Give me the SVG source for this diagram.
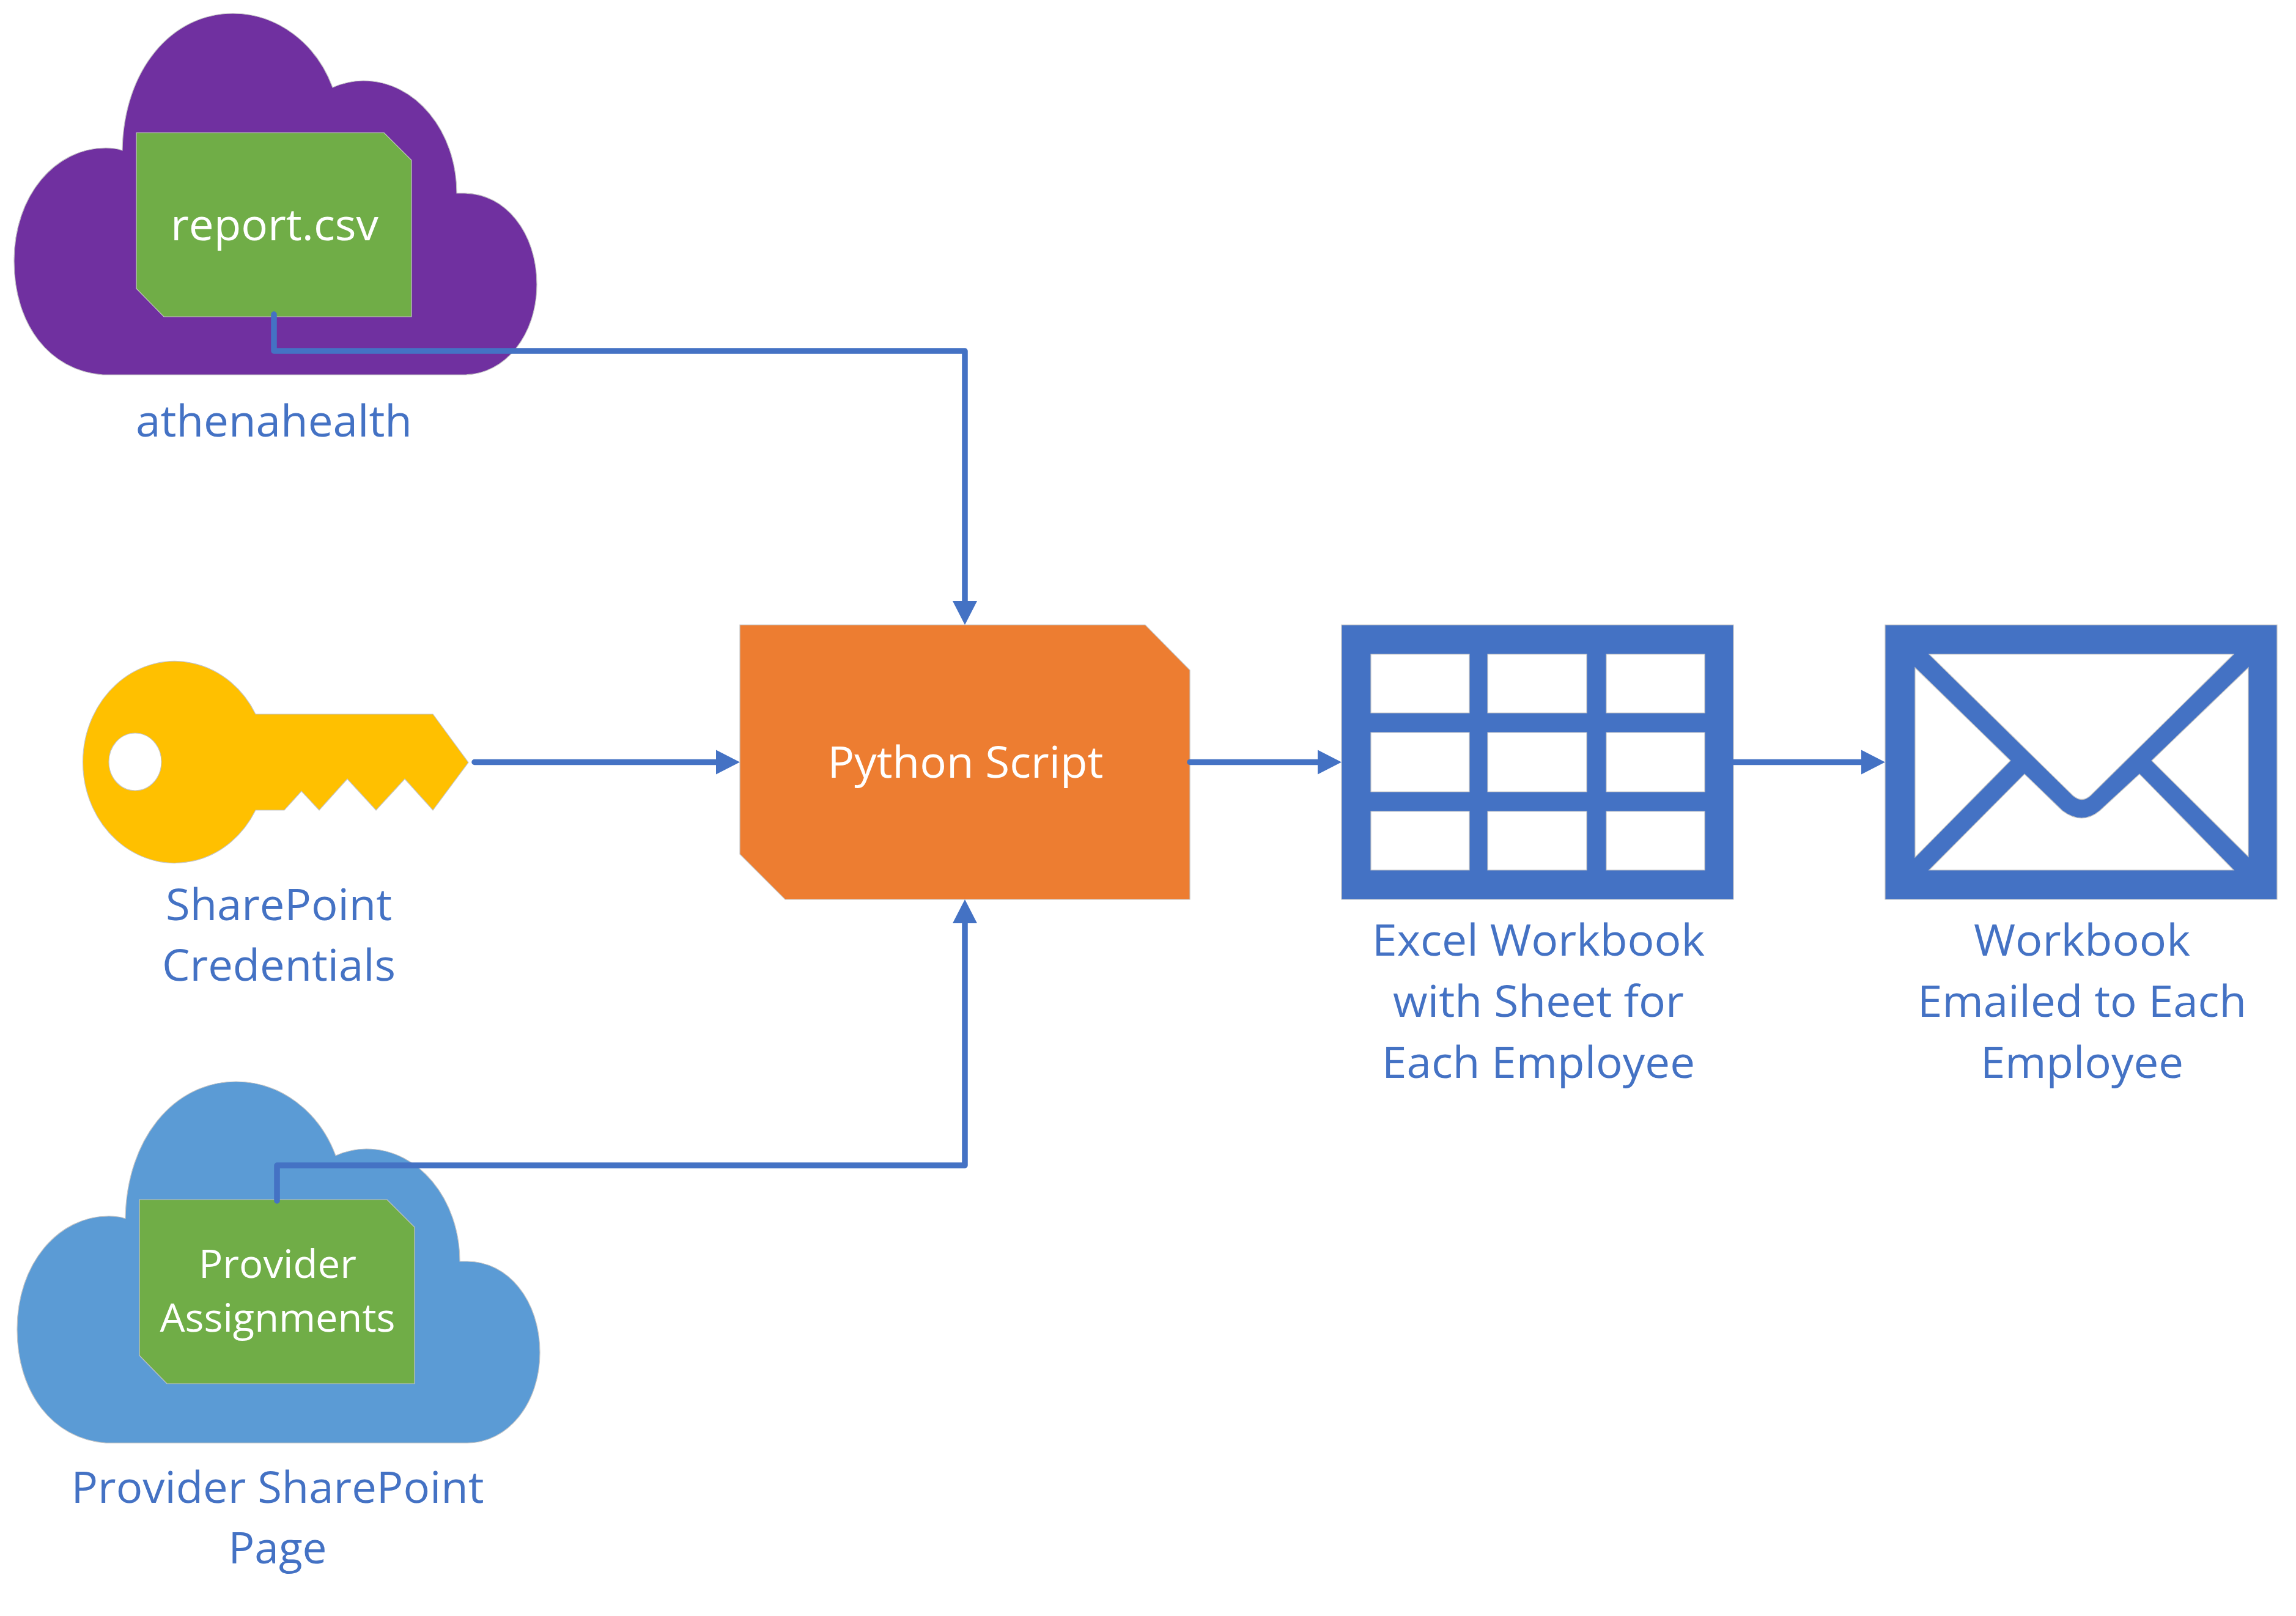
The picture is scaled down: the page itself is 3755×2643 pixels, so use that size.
<svg xmlns="http://www.w3.org/2000/svg" width="3755" height="2643" viewBox="0 0 3755 2643">
<style>
text{font-family:"Open Sans","Noto Sans","Liberation Sans",sans-serif;font-size:72px;text-anchor:middle}
.s{font-size:64px}
.l{fill:#4472C4}
.w{fill:#fff}
.e{stroke:#c4c4c4;stroke-width:1.2}
.c{fill:none;stroke:#4472C4;stroke-width:9.500;stroke-linejoin:round;stroke-linecap:round}
.a{marker-end:url(#arr)}
</style>
<defs>
<marker id="arr" markerUnits="userSpaceOnUse" markerWidth="40" markerHeight="42" refX="1" refY="21" orient="auto"><path d="M0,1L39,21L0,41Z" fill="#4472C4"/></marker>
<path id="cloud" d="M168,613C80,606 23,530 23,427C23,320 90,242 173,242C183,242 192,243 200,246C202,115 280,22 381,22C453,22 517,70 544,143C560,136 577,132 594,132C680,132 747,215 747,316L759,316C826,316 878,380 878,465C878,548 826,613 759,613Z"/>
<path id="doc" d="M223,217H628L673,262V518H268L223,472Z"/>
</defs>
<rect width="3755" height="2643" fill="#fff"/>
<g id="athenahealth">
<use href="#cloud" class="e" fill="#7030A0"/>
<use href="#doc" class="e" fill="#70AD47"/>
<text class="w" x="449" y="393" textLength="340" lengthAdjust="spacingAndGlyphs">report.csv</text>
<text class="l" x="448" y="714" textLength="452" lengthAdjust="spacingAndGlyphs">athenahealth</text>
</g>
<g id="credentials">
<path class="e" fill="#FFC000" fill-rule="evenodd" d="M418,1168H708L766,1247L708,1325L662,1274L615,1325L568,1274L522,1325L493,1294L465,1325H418A150.300,165 0 1 1 418,1168ZM221,1199C197,1199 178,1220 178,1246C178,1272 197,1293 221,1293C245,1293 264,1272 264,1246C264,1220 245,1199 221,1199Z"/>
<text class="l" x="456" y="1505" textLength="370" lengthAdjust="spacingAndGlyphs">SharePoint</text>
<text class="l" x="456" y="1604" textLength="382" lengthAdjust="spacingAndGlyphs">Credentials</text>
</g>
<g id="provider">
<use href="#cloud" class="e" fill="#5B9BD5" transform="translate(5,1747)"/>
<use href="#doc" class="e" fill="#70AD47" transform="translate(5,1745)"/>
<text class="w s" x="454" y="2090" textLength="258" lengthAdjust="spacingAndGlyphs">Provider</text>
<text class="w s" x="454" y="2178" textLength="385" lengthAdjust="spacingAndGlyphs">Assignments</text>
<text class="l" x="454" y="2458" textLength="675" lengthAdjust="spacingAndGlyphs">Provider SharePoint</text>
<text class="l" x="454" y="2557" textLength="161" lengthAdjust="spacingAndGlyphs">Page</text>
</g>
<g id="python">
<path class="e" fill="#ED7D31" d="M1210,1022H1873L1946,1096V1471H1284L1210,1397Z"/>
<text class="w" x="1579" y="1272" textLength="451" lengthAdjust="spacingAndGlyphs">Python Script</text>
</g>
<g id="excel">
<path class="e" fill="#4472C4" fill-rule="evenodd" d="M2194,1022H2835V1471H2194ZM2242,1070V1166H2403V1070ZM2433,1070V1166H2595V1070ZM2627,1070V1166H2788V1070ZM2242,1198V1295H2403V1198ZM2433,1198V1295H2595V1198ZM2627,1198V1295H2788V1198ZM2242,1327V1423H2403V1327ZM2433,1327V1423H2595V1327ZM2627,1327V1423H2788V1327Z"/>
<text class="l" x="2516" y="1563" textLength="544" lengthAdjust="spacingAndGlyphs">Excel Workbook</text>
<text class="l" x="2516" y="1663" textLength="476" lengthAdjust="spacingAndGlyphs">with Sheet for</text>
<text class="l" x="2516" y="1763" textLength="512" lengthAdjust="spacingAndGlyphs">Each Employee</text>
</g>
<g id="email">
<path class="e" fill="#4472C4" fill-rule="evenodd" d="M3083,1022H3724V1471H3083ZM3155,1070L3390,1301Q3405,1314 3419,1301L3653,1070ZM3132,1092V1402L3288,1244ZM3677,1092L3519,1244L3677,1401ZM3155,1423H3653L3499,1266L3434,1326Q3405,1350 3373,1326L3311,1266Z"/>
<text class="l" x="3405" y="1563" textLength="354" lengthAdjust="spacingAndGlyphs">Workbook</text>
<text class="l" x="3405" y="1663" textLength="538" lengthAdjust="spacingAndGlyphs">Emailed to Each</text>
<text class="l" x="3405" y="1763" textLength="332" lengthAdjust="spacingAndGlyphs">Employee</text>
</g>
<g id="connectors">
<path class="c a" d="M448,514V574H1578V984"/>
<path class="c a" d="M453,1964V1906H1578V1509"/>
<path class="c a" d="M776,1246.500H1172"/>
<path class="c a" d="M1946,1246.500H2156"/>
<path class="c a" d="M2835,1246.500H3045"/>
</g>
</svg>
